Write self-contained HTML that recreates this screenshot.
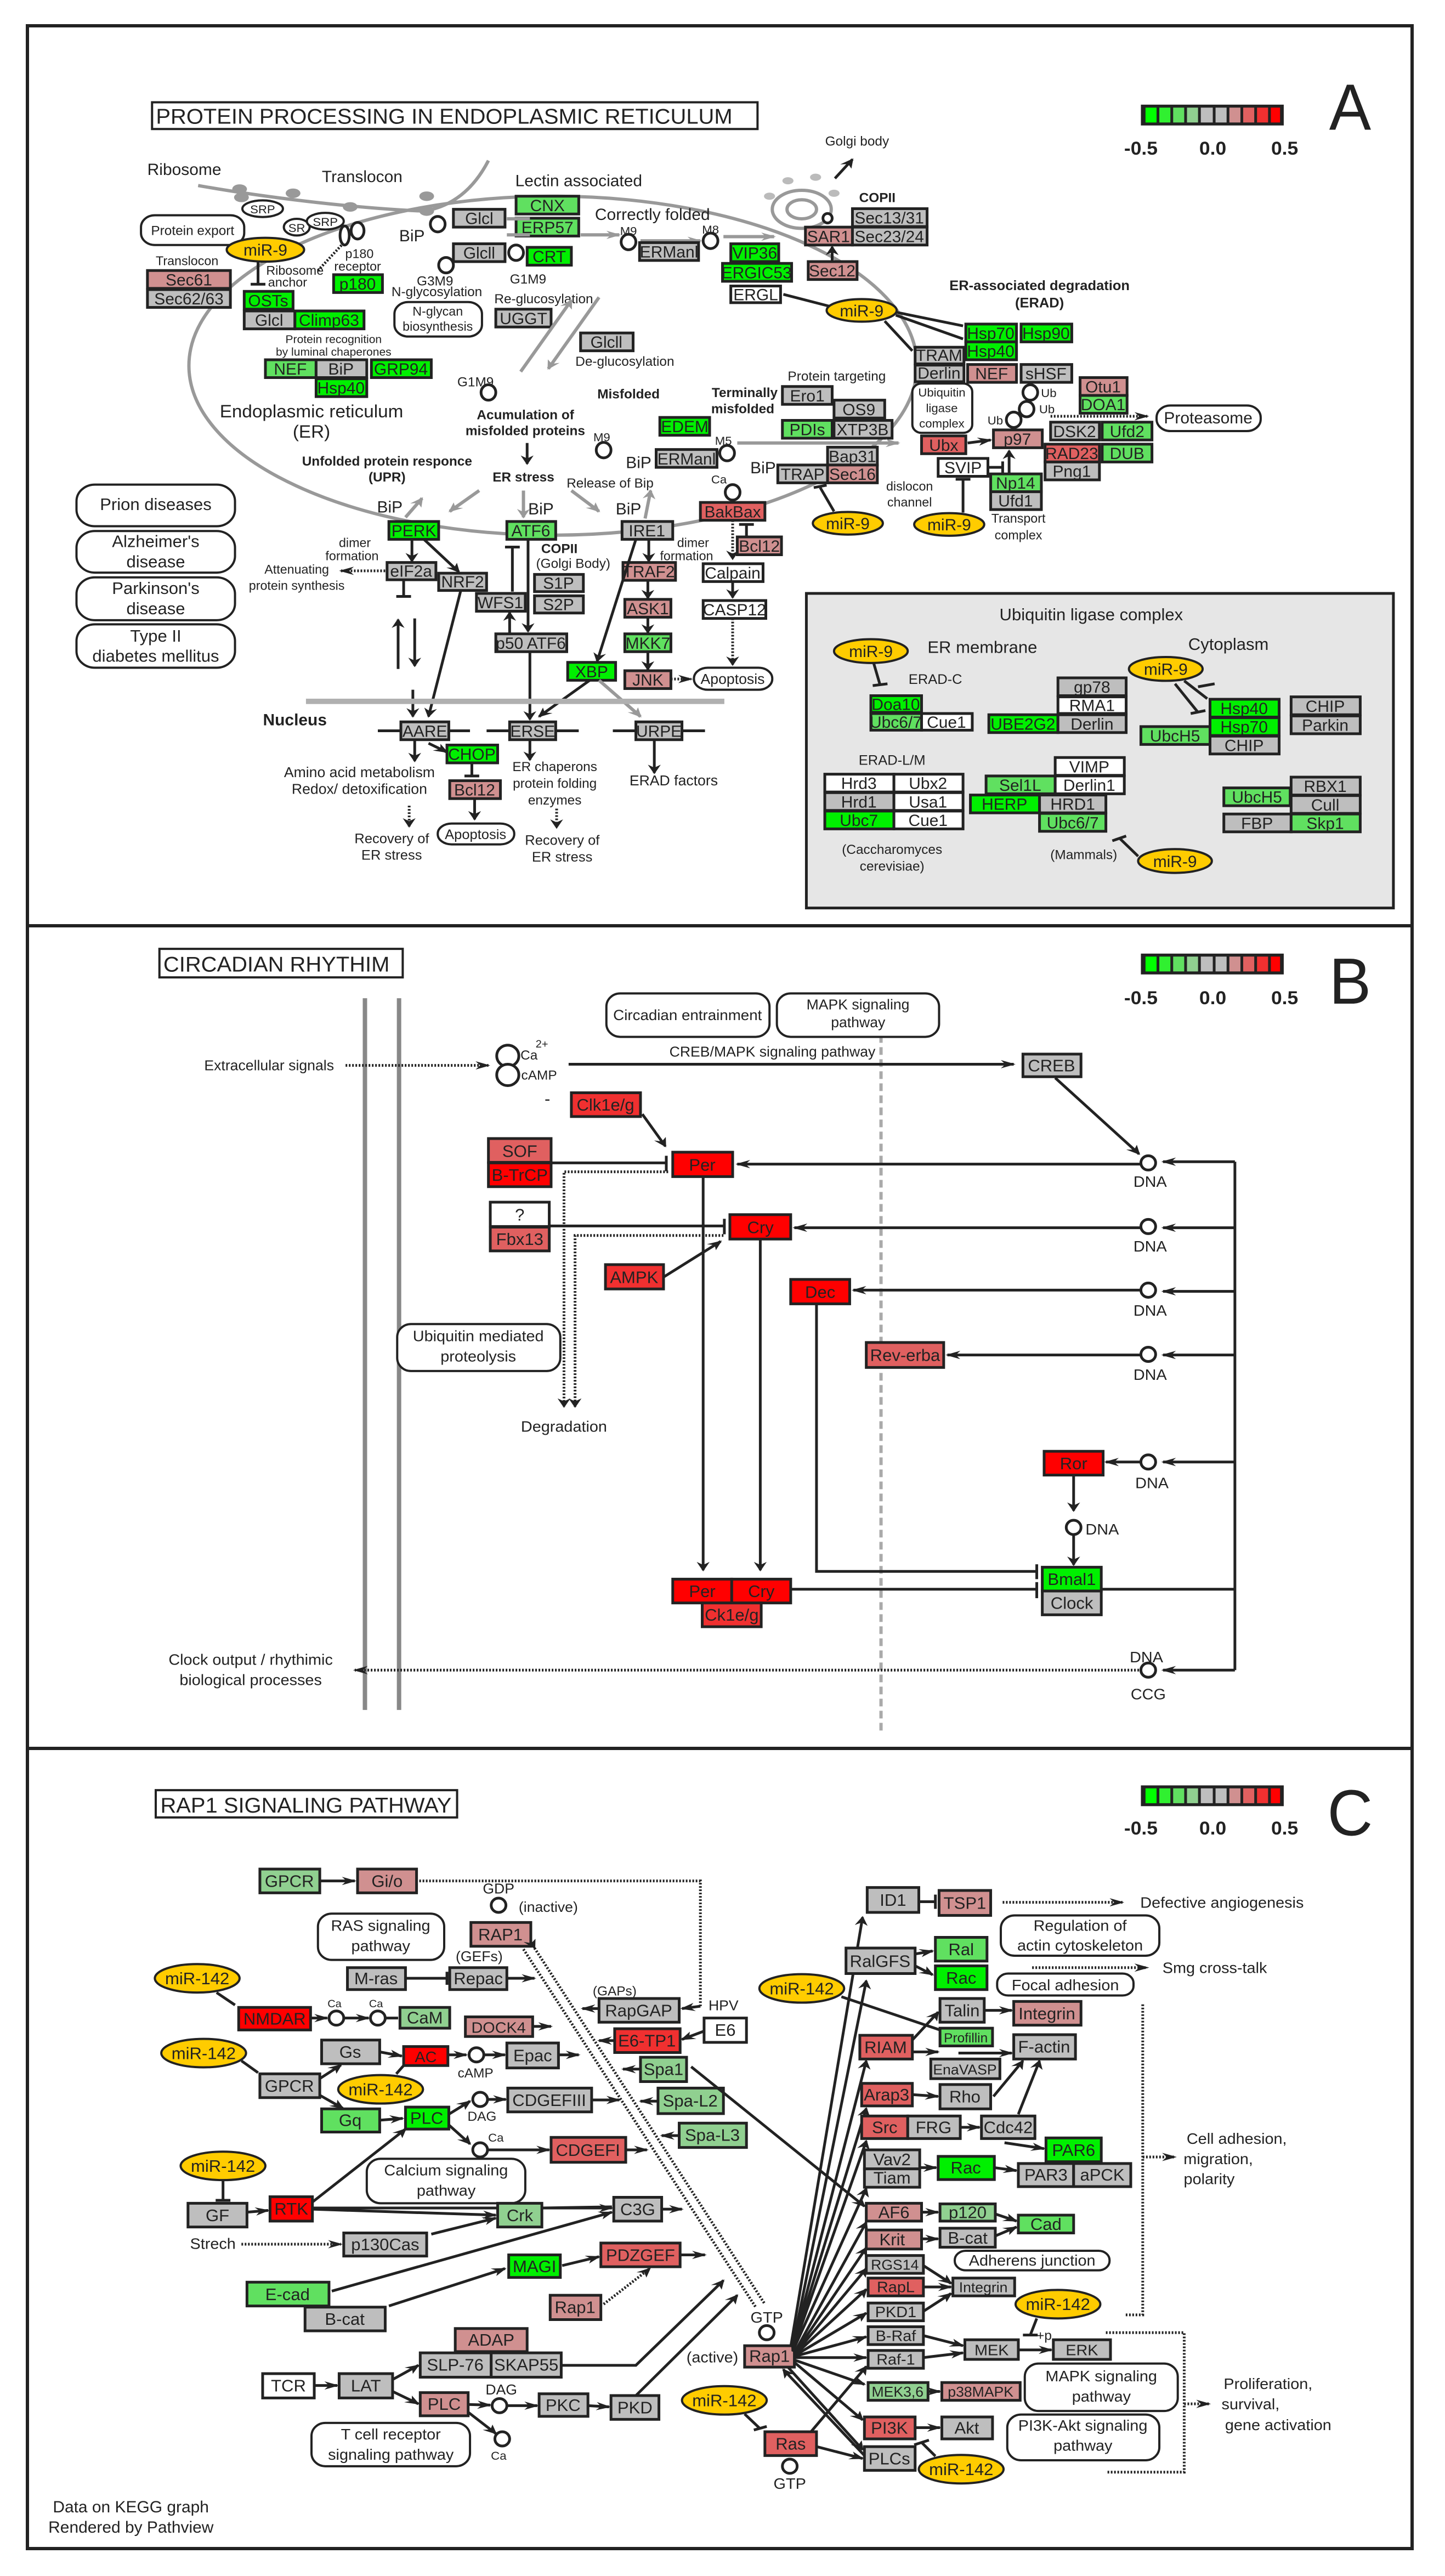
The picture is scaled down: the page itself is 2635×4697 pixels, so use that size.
<!DOCTYPE html>
<html><head><meta charset="utf-8"><style>
html,body{margin:0;padding:0;background:#fff;}
svg{display:block}
svg *{vector-effect:non-scaling-stroke}
text{font-family:"Liberation Sans",sans-serif;font-size:27px;text-anchor:middle;fill:#222;transform-box:fill-box;transform-origin:center;transform:scaleX(.66)}
text.bd{font-weight:bold}
text.big{font-size:110px;transform:scaleX(.62)}
rect.b{stroke:#222;stroke-width:5}
.G1{fill:#00f000}.G2{fill:#30e030}.G3{fill:#60e060}.G4{fill:#90d090}.GR{fill:#bebebe}.P1{fill:#d09090}.P2{fill:#e06060}.P3{fill:#f03030}.R{fill:#ff0000}.W{fill:#fff}
.m{fill:#ffcc00;stroke:#222;stroke-width:4}
.rb{fill:#fff;stroke:#222;stroke-width:4}
.l{stroke:#222;stroke-width:5;fill:none}
.gl{stroke:#999;stroke-width:6;fill:none}
.c{fill:#fff;stroke:#222;stroke-width:5}
.d{stroke-dasharray:3 3}
</style></head><body>
<svg width="2635" height="4697" viewBox="0 0 2635 4697" xmlns="http://www.w3.org/2000/svg">
<defs>
<marker id="a" markerUnits="userSpaceOnUse" markerWidth="16" markerHeight="14" refX="14" refY="7" orient="auto"><path d="M0,0 L16,7 L0,14 L5,7 z" fill="#222"/></marker>
<marker id="ag" markerUnits="userSpaceOnUse" markerWidth="16" markerHeight="14" refX="14" refY="7" orient="auto"><path d="M0,0 L16,7 L0,14 L5,7 z" fill="#999"/></marker>
</defs>
<rect x="0" y="0" width="2635" height="4697" fill="#fff"/>
<rect x="50" y="47" width="2525" height="4600" fill="none" stroke="#222" stroke-width="6"/>
<line x1="50" y1="1688" x2="2575" y2="1688" stroke="#222" stroke-width="6"/>
<line x1="50" y1="3188" x2="2575" y2="3188" stroke="#222" stroke-width="6"/>

<!-- ================= PANEL A ================= -->
<g transform="matrix(1.6805 0 0 1.0842 0 0)">
<rect x="165" y="172" width="657" height="45" fill="#fff" stroke="#222" stroke-width="4"/>
<text x="482" y="208" style="font-size:36px">PROTEIN PROCESSING IN ENDOPLASMIC RETICULUM</text>
<rect x="1238" y="176" width="155" height="35" fill="#222"/>
<rect x="1243" y="181" width="12" height="25" fill="#00ff00"/><rect x="1258" y="181" width="12" height="25" fill="#30f030"/><rect x="1273" y="181" width="12" height="25" fill="#60e060"/><rect x="1288" y="181" width="12" height="25" fill="#90d090"/><rect x="1303" y="181" width="13" height="25" fill="#bebebe"/><rect x="1319" y="181" width="12" height="25" fill="#bebebe"/><rect x="1334" y="181" width="12" height="25" fill="#d09090"/><rect x="1349" y="181" width="12" height="25" fill="#e06060"/><rect x="1364" y="181" width="12" height="25" fill="#f03030"/><rect x="1379" y="181" width="10" height="25" fill="#ff0000"/>
<text class="bd" x="1238" y="260" style="font-size:32px">-0.5</text><text class="bd" x="1316" y="260" style="font-size:32px">0.0</text><text class="bd" x="1394" y="260" style="font-size:32px">0.5</text>
<text class="big" x="1465" y="218">A</text>

<ellipse cx="600" cy="615" rx="395" ry="285" class="gl"/>
<path d="M215,312 C280,330 380,350 460,355 C500,345 520,300 530,270" class="gl"/>
<circle cx="260" cy="318" r="8" fill="#999"/><circle cx="262" cy="332" r="8" fill="#999"/><circle cx="318" cy="325" r="8" fill="#999"/><circle cx="380" cy="348" r="8" fill="#999"/><circle cx="463" cy="330" r="8" fill="#999"/><circle cx="463" cy="355" r="8" fill="#999"/>
<circle cx="870" cy="352" r="32" class="gl"/><circle cx="870" cy="352" r="16" class="gl"/>
<circle cx="855" cy="304" r="6" fill="#bbb"/><circle cx="885" cy="298" r="6" fill="#bbb"/><circle cx="905" cy="325" r="6" fill="#bbb"/><circle cx="835" cy="330" r="6" fill="#bbb"/>
<line x1="906" y1="300" x2="925" y2="268" class="l" marker-end="url(#a)"/>
<text x="200" y="294">Ribosome</text><text x="393" y="306">Translocon</text><text x="628" y="313">Lectin associated</text><text x="708" y="370">Correctly folded</text>
<text x="930" y="245" style="font-size:22px">Golgi body</text><text class="bd" x="952" y="340" style="font-size:22px">COPII</text>
<ellipse cx="285" cy="351" rx="22" ry="14" class="rb"/><text x="285" y="359" style="font-size:20px">SRP</text>
<ellipse cx="322" cy="382" rx="14" ry="14" class="rb"/><text x="322" y="390" style="font-size:20px">SR</text>
<ellipse cx="353" cy="372" rx="20" ry="14" class="rb"/><text x="353" y="380" style="font-size:20px">SRP</text>
<ellipse cx="388" cy="388" rx="7" ry="14" class="c"/><ellipse cx="374" cy="396" rx="5" ry="16" class="c"/>
<rect x="153" y="362" width="112" height="50" rx="15" ry="20" class="rb"/><text x="209" y="395" style="font-size:22px">Protein export</text>
<ellipse cx="288" cy="420" rx="42" ry="20" class="m"/><text x="288" y="430">miR-9</text>
<line x1="280" y1="440" x2="280" y2="478" class="l"/><line x1="272" y1="478" x2="288" y2="478" class="l"/>
<text x="203" y="446" style="font-size:21px">Translocon</text>
<rect class="b P1" x="160" y="455" width="90" height="30"/><text x="205" y="480">Sec61</text>
<rect class="b GR" x="160" y="487" width="90" height="30"/><text x="205" y="512">Sec62/63</text>
<text x="320" y="462" style="font-size:21px">Ribosome</text><text x="312" y="482" style="font-size:21px">anchor</text>
<text x="390" y="434" style="font-size:21px">p180</text><text x="388" y="455" style="font-size:21px">receptor</text>
<path d="M345,455 L372,410" class="l d"/>
<rect class="b G1" x="362" y="462" width="53" height="30"/><text x="388" y="487">p180</text>
<rect class="b G1" x="265" y="490" width="53" height="30"/><text x="291" y="515">OSTs</text>
<rect class="b GR" x="265" y="523" width="55" height="30"/><text x="292" y="548">Glcl</text>
<rect class="b G1" x="320" y="523" width="75" height="30"/><text x="357" y="548">Climp63</text>
<text x="447" y="406">BiP</text><ellipse cx="475" cy="377" rx="8" ry="13" class="c"/>
<rect class="b GR" x="492" y="352" width="56" height="30"/><text x="520" y="377">Glcl</text>
<rect class="b GR" x="492" y="410" width="56" height="30"/><text x="520" y="435">Glcll</text>
<rect class="b G3" x="560" y="330" width="68" height="30"/><text x="594" y="355">CNX</text>
<rect class="b G3" x="560" y="367" width="68" height="30"/><text x="594" y="392">ERP57</text>
<ellipse cx="560" cy="425" rx="8" ry="13" class="c"/>
<rect class="b G1" x="572" y="416" width="48" height="30"/><text x="596" y="441">CRT</text>
<line x1="550" y1="368" x2="575" y2="368" class="gl"/><line x1="550" y1="395" x2="575" y2="395" class="gl"/>
<line x1="630" y1="395" x2="672" y2="395" class="gl" marker-end="url(#ag)"/><line x1="695" y1="405" x2="760" y2="405" class="gl" marker-end="url(#ag)"/><line x1="785" y1="398" x2="840" y2="398" class="gl" marker-end="url(#ag)"/>
<text x="682" y="395" style="font-size:20px">M9</text><ellipse cx="682" cy="407" rx="8" ry="13" class="c"/>
<rect class="b GR" x="694" y="408" width="64" height="30"/><text x="726" y="433">ERManl</text>
<text x="771" y="393" style="font-size:20px">M8</text><ellipse cx="771" cy="405" rx="8" ry="13" class="c"/>
<rect class="b G1" x="793" y="410" width="52" height="30"/><text x="819" y="435">VIP36</text>
<rect class="b G1" x="784" y="443" width="75" height="30"/><text x="821" y="468">ERGIC53</text>
<rect class="b W" x="793" y="481" width="54" height="28"/><text x="820" y="505">ERGL</text>
<ellipse cx="898" cy="367" rx="5" ry="8" class="c"/>
<rect class="b P1" x="874" y="382" width="51" height="30"/><text x="899" y="407">SAR1</text>
<rect class="b GR" x="925" y="351" width="81" height="30"/><text x="965" y="376">Sec13/31</text>
<rect class="b GR" x="925" y="382" width="81" height="30"/><text x="965" y="407">Sec23/24</text>
<rect class="b P1" x="877" y="440" width="53" height="30"/><text x="903" y="465">Sec12</text>
<line x1="903" y1="440" x2="903" y2="415" class="l" marker-end="url(#a)"/>
<text x="472" y="480" style="font-size:22px">G3M9</text><ellipse cx="484" cy="446" rx="8" ry="13" class="c"/>
<text x="474" y="498" style="font-size:22px">N-glycosylation</text>
<rect x="428" y="508" width="95" height="58" rx="15" ry="20" class="rb"/><text x="475" y="531" style="font-size:21px">N-glycan</text><text x="475" y="556" style="font-size:21px">biosynthesis</text>
<text x="573" y="477" style="font-size:22px">G1M9</text><text x="590" y="510" style="font-size:22px">Re-glucosylation</text>
<rect class="b GR" x="538" y="520" width="60" height="30"/><text x="568" y="545">UGGT</text>
<rect class="b GR" x="630" y="560" width="57" height="30"/><text x="658" y="585">Glcll</text>
<text x="678" y="615" style="font-size:22px">De-glucosylation</text>
<line x1="650" y1="500" x2="595" y2="620" class="gl" marker-end="url(#ag)"/><line x1="565" y1="625" x2="620" y2="505" class="gl" marker-end="url(#ag)"/>
<text x="362" y="577" style="font-size:19px">Protein recognition</text><text x="362" y="598" style="font-size:19px">by luminal chaperones</text>
<rect class="b G3" x="288" y="605" width="55" height="30"/><text x="315" y="630">NEF</text>
<rect class="b GR" x="343" y="605" width="55" height="30"/><text x="370" y="630">BiP</text>
<rect class="b G1" x="403" y="605" width="65" height="30"/><text x="435" y="630">GRP94</text>
<rect class="b G1" x="343" y="637" width="55" height="30"/><text x="370" y="662">Hsp40</text>
<text x="338" y="702" style="font-size:30px">Endoplasmic reticulum</text><text x="338" y="736" style="font-size:30px">(ER)</text>
<text x="516" y="650" style="font-size:22px">G1M9</text><ellipse cx="530" cy="660" rx="8" ry="13" class="c"/>
<text class="bd" x="682" y="670" style="font-size:22px">Misfolded</text>
<text class="bd" x="570" y="705" style="font-size:22px">Acumulation of</text><text class="bd" x="570" y="732" style="font-size:22px">misfolded proteins</text>
<line x1="572" y1="745" x2="572" y2="780" class="l" marker-end="url(#a)"/>
<text class="bd" x="420" y="783" style="font-size:22px">Unfolded protein responce</text><text class="bd" x="420" y="810" style="font-size:22px">(UPR)</text>
<text class="bd" x="568" y="810" style="font-size:22px">ER stress</text><text x="662" y="820" style="font-size:22px">Release of Bip</text>
<text class="bd" x="808" y="668" style="font-size:22px">Terminally</text><text class="bd" x="806" y="695" style="font-size:22px">misfolded</text>
<text x="908" y="640" style="font-size:22px">Protein targeting</text>
<rect class="b GR" x="849" y="650" width="54" height="30"/><text x="876" y="675">Ero1</text>
<rect class="b GR" x="905" y="673" width="55" height="30"/><text x="932" y="698">OS9</text>
<rect class="b G3" x="849" y="707" width="54" height="30"/><text x="876" y="732">PDIs</text>
<rect class="b GR" x="905" y="707" width="63" height="30"/><text x="936" y="732">XTP3B</text>
<rect class="b G1" x="716" y="702" width="54" height="30"/><text x="743" y="727">EDEM</text>
<text x="653" y="742" style="font-size:20px">M9</text><ellipse cx="655" cy="757" rx="8" ry="13" class="c"/>
<rect class="b GR" x="712" y="756" width="66" height="30"/><text x="745" y="781">ERManl</text>
<text x="693" y="787">BiP</text>
<text x="785" y="748" style="font-size:20px">M5</text><ellipse cx="789" cy="762" rx="8" ry="13" class="c"/>
<line x1="800" y1="745" x2="975" y2="745" class="gl" marker-end="url(#ag)"/>
<text x="828" y="796">BiP</text>
<rect class="b GR" x="898" y="752" width="54" height="30"/><text x="925" y="777">Bap31</text>
<rect class="b GR" x="844" y="782" width="54" height="30"/><text x="871" y="807">TRAP</text>
<rect class="b P1" x="898" y="782" width="54" height="30"/><text x="925" y="807">Sec16</text>
<text x="780" y="813" style="font-size:20px">Ca</text><ellipse cx="795" cy="828" rx="8" ry="13" class="c"/>
<rect class="b P2" x="760" y="845" width="70" height="30"/><text x="795" y="870">BakBax</text>
<line x1="795" y1="875" x2="795" y2="940" class="l d" marker-end="url(#a)"/>
<rect class="b P1" x="800" y="903" width="48" height="30"/><text x="824" y="928">Bcl12</text>
<line x1="810" y1="903" x2="810" y2="882" class="l"/><line x1="802" y1="882" x2="818" y2="882" class="l"/>
<rect class="b W" x="763" y="948" width="65" height="30"/><text x="795" y="973">Calpain</text>
<line x1="795" y1="978" x2="795" y2="1005" class="l" marker-end="url(#a)"/>
<rect class="b W" x="763" y="1010" width="68" height="30"/><text x="797" y="1035">CASP12</text>
<line x1="795" y1="1040" x2="795" y2="1118" class="l d" marker-end="url(#a)"/>
<rect x="753" y="1123" width="85" height="37" rx="15" ry="18" class="rb"/><text x="795" y="1150" style="font-size:24px">Apoptosis</text>
<text class="bd" x="1128" y="488" style="font-size:23px">ER-associated degradation</text><text class="bd" x="1128" y="517" style="font-size:23px">(ERAD)</text>
<line x1="850" y1="495" x2="900" y2="515" class="l"/>
<ellipse cx="935" cy="522" rx="38" ry="19" class="m"/><text x="935" y="532">miR-9</text>
<line x1="972" y1="525" x2="1045" y2="548" class="l"/><line x1="972" y1="530" x2="1045" y2="570" class="l"/><line x1="960" y1="540" x2="990" y2="590" class="l"/>
<rect class="b G1" x="1048" y="545" width="55" height="30"/><text x="1075" y="570">Hsp70</text>
<rect class="b G1" x="1108" y="545" width="55" height="30"/><text x="1135" y="570">Hsp90</text>
<rect class="b G1" x="1048" y="575" width="55" height="30"/><text x="1075" y="600">Hsp40</text>
<rect class="b GR" x="993" y="584" width="53" height="28"/><text x="1019" y="607">TRAM</text>
<rect class="b GR" x="993" y="614" width="53" height="28"/><text x="1019" y="637">Derlin</text>
<rect class="b P1" x="1050" y="613" width="53" height="30"/><text x="1076" y="638">NEF</text>
<rect class="b GR" x="1108" y="613" width="55" height="30"/><text x="1135" y="638">sHSF</text>
<rect x="990" y="645" width="65" height="83" rx="10" ry="14" class="rb"/><text x="1022" y="667" style="font-size:20px">Ubiquitin</text><text x="1022" y="693" style="font-size:20px">ligase</text><text x="1022" y="719" style="font-size:20px">complex</text>
<rect class="b P1" x="1172" y="635" width="51" height="30"/><text x="1197" y="660">Otu1</text>
<rect class="b G3" x="1172" y="665" width="51" height="30"/><text x="1197" y="690">DOA1</text>
<text x="1138" y="668" style="font-size:20px">Ub</text><ellipse cx="1118" cy="660" rx="8" ry="13" class="c"/>
<text x="1136" y="695" style="font-size:20px">Ub</text><ellipse cx="1114" cy="688" rx="8" ry="13" class="c"/>
<text x="1080" y="714" style="font-size:20px">Ub</text><ellipse cx="1100" cy="706" rx="8" ry="13" class="c"/>
<line x1="1140" y1="700" x2="1245" y2="700" class="l d" marker-end="url(#a)"/>
<rect x="1255" y="682" width="113" height="43" rx="15" ry="20" class="rb"/><text x="1311" y="712" style="font-size:27px">Proteasome</text>
<rect class="b GR" x="1140" y="710" width="53" height="30"/><text x="1166" y="735">DSK2</text>
<rect class="b G3" x="1196" y="710" width="54" height="30"/><text x="1223" y="735">Ufd2</text>
<rect class="b P2" x="1000" y="733" width="48" height="30"/><text x="1024" y="758">Ubx</text>
<rect class="b P1" x="1078" y="723" width="53" height="30"/><text x="1104" y="748">p97</text>
<line x1="1050" y1="745" x2="1075" y2="740" class="l" marker-end="url(#a)"/>
<rect class="b P2" x="1134" y="747" width="59" height="30"/><text x="1163" y="772">RAD23</text>
<rect class="b G3" x="1196" y="747" width="54" height="30"/><text x="1223" y="772">DUB</text>
<rect class="b GR" x="1134" y="777" width="59" height="30"/><text x="1163" y="802">Png1</text>
<rect class="b W" x="1018" y="771" width="54" height="30"/><text x="1045" y="796">SVIP</text>
<line x1="1072" y1="786" x2="1088" y2="786" class="l"/><line x1="1088" y1="776" x2="1088" y2="796" class="l"/>
<line x1="1095" y1="797" x2="1095" y2="758" class="l" marker-end="url(#a)"/>
<rect class="b G3" x="1075" y="797" width="55" height="30"/><text x="1102" y="822">Np14</text>
<rect class="b GR" x="1075" y="827" width="55" height="30"/><text x="1102" y="852">Ufd1</text>
<text x="987" y="825" style="font-size:21px">dislocon</text><text x="987" y="852" style="font-size:21px">channel</text>
<text x="1105" y="879" style="font-size:21px">Transport</text><text x="1105" y="907" style="font-size:21px">complex</text>
<ellipse cx="920" cy="880" rx="38" ry="19" class="m"/><text x="920" y="890">miR-9</text>
<line x1="905" y1="860" x2="890" y2="820" class="l"/><line x1="883" y1="820" x2="897" y2="816" class="l"/>
<ellipse cx="1030" cy="882" rx="38" ry="19" class="m"/><text x="1030" y="892">miR-9</text>
<line x1="1045" y1="862" x2="1045" y2="806" class="l"/><line x1="1037" y1="806" x2="1053" y2="806" class="l"/>
<text x="423" y="862">BiP</text><text x="587" y="865">BiP</text><text x="682" y="865">BiP</text>
<line x1="440" y1="870" x2="458" y2="838" class="gl" marker-end="url(#ag)"/><line x1="520" y1="825" x2="488" y2="860" class="gl" marker-end="url(#ag)"/>
<line x1="568" y1="825" x2="568" y2="870" class="gl" marker-end="url(#ag)"/><line x1="620" y1="825" x2="650" y2="860" class="gl" marker-end="url(#ag)"/><line x1="700" y1="872" x2="706" y2="825" class="gl" marker-end="url(#ag)"/>
<rect class="b G1" x="422" y="877" width="54" height="30"/><text x="449" y="902">PERK</text>
<rect class="b G3" x="550" y="877" width="53" height="30"/><text x="576" y="902">ATF6</text>
<rect class="b GR" x="675" y="877" width="55" height="30"/><text x="702" y="902">IRE1</text>
<text x="385" y="920" style="font-size:21px">dimer</text><text x="382" y="942" style="font-size:21px">formation</text>
<text x="322" y="965" style="font-size:21px">Attenuating</text><text x="322" y="992" style="font-size:21px">protein synthesis</text>
<line x1="418" y1="960" x2="370" y2="960" class="l d" marker-end="url(#a)"/>
<rect class="b GR" x="420" y="946" width="53" height="29"/><text x="446" y="970">eIF2a</text>
<rect class="b GR" x="476" y="964" width="52" height="29"/><text x="502" y="988">NRF2</text>
<line x1="447" y1="907" x2="447" y2="944" class="l" marker-end="url(#a)"/><line x1="460" y1="907" x2="498" y2="962" class="l" marker-end="url(#a)"/>
<line x1="438" y1="975" x2="438" y2="1003" class="l"/><line x1="430" y1="1003" x2="446" y2="1003" class="l"/>
<line x1="450" y1="1040" x2="450" y2="1120" class="l" marker-end="url(#a)"/><line x1="432" y1="1125" x2="432" y2="1042" class="l" marker-end="url(#a)"/>
<line x1="500" y1="993" x2="465" y2="1205" class="l" marker-end="url(#a)"/>
<line x1="448" y1="1160" x2="448" y2="1205" class="l" marker-end="url(#a)"/>
<text class="bd" x="607" y="930" style="font-size:22px">COPII</text><text x="622" y="955" style="font-size:22px">(Golgi Body)</text>
<rect class="b GR" x="580" y="966" width="53" height="29"/><text x="606" y="990">S1P</text>
<rect class="b GR" x="580" y="1002" width="53" height="29"/><text x="606" y="1026">S2P</text>
<rect class="b GR" x="517" y="998" width="53" height="30"/><text x="543" y="1023">WFS1</text>
<line x1="556" y1="920" x2="556" y2="995" class="l"/><line x1="548" y1="920" x2="564" y2="920" class="l"/>
<line x1="573" y1="907" x2="573" y2="1062" class="l" marker-end="url(#a)"/><line x1="553" y1="1066" x2="553" y2="1030" class="l" marker-end="url(#a)"/>
<rect class="b GR" x="538" y="1066" width="77" height="30"/><text x="576" y="1091">p50 ATF6</text>
<line x1="575" y1="1096" x2="575" y2="1210" class="l" marker-end="url(#a)"/>
<text x="752" y="920" style="font-size:21px">dimer</text><text x="745" y="942" style="font-size:21px">formation</text>
<rect class="b P1" x="676" y="946" width="57" height="30"/><text x="704" y="971">TRAF2</text>
<line x1="704" y1="907" x2="704" y2="944" class="l" marker-end="url(#a)"/>
<rect class="b P1" x="678" y="1008" width="50" height="30"/><text x="703" y="1033">ASK1</text>
<rect class="b G3" x="678" y="1066" width="50" height="30"/><text x="703" y="1091">MKK7</text>
<rect class="b P1" x="678" y="1128" width="50" height="30"/><text x="703" y="1153">JNK</text>
<line x1="703" y1="976" x2="703" y2="1006" class="l" marker-end="url(#a)"/><line x1="703" y1="1038" x2="703" y2="1064" class="l" marker-end="url(#a)"/><line x1="703" y1="1096" x2="703" y2="1126" class="l" marker-end="url(#a)"/>
<line x1="728" y1="1142" x2="750" y2="1142" class="l d" marker-end="url(#a)"/>
<rect class="b G1" x="616" y="1114" width="52" height="30"/><text x="642" y="1139">XBP</text>
<line x1="690" y1="907" x2="648" y2="1112" class="l" marker-end="url(#a)"/>
<line x1="640" y1="1144" x2="585" y2="1205" class="l" marker-end="url(#a)"/><line x1="650" y1="1144" x2="695" y2="1205" class="gl" marker-end="url(#ag)"/>
<rect x="332" y="1175" width="454" height="9" fill="#b0b0b0"/>
<text class="bd" x="320" y="1220">Nucleus</text>
<line x1="410" y1="1229" x2="510" y2="1229" class="l"/><line x1="528" y1="1229" x2="628" y2="1229" class="l"/><line x1="665" y1="1229" x2="765" y2="1229" class="l"/>
<rect class="b GR" x="435" y="1214" width="52" height="30"/><text x="461" y="1239">AARE</text>
<rect class="b GR" x="553" y="1214" width="50" height="30"/><text x="578" y="1239">ERSE</text>
<rect class="b GR" x="690" y="1214" width="50" height="30"/><text x="715" y="1239">URPE</text>
<line x1="450" y1="1246" x2="450" y2="1280" class="l" marker-end="url(#a)"/><line x1="465" y1="1250" x2="485" y2="1265" class="l" marker-end="url(#a)"/>
<line x1="575" y1="1246" x2="575" y2="1278" class="l" marker-end="url(#a)"/><line x1="710" y1="1246" x2="710" y2="1300" class="l" marker-end="url(#a)"/>
<rect class="b G1" x="485" y="1253" width="55" height="30"/><text x="512" y="1278">CHOP</text>
<line x1="512" y1="1283" x2="512" y2="1305" class="l"/><line x1="504" y1="1305" x2="520" y2="1305" class="l"/>
<rect class="b P1" x="488" y="1313" width="55" height="30"/><text x="515" y="1338">Bcl12</text>
<line x1="515" y1="1343" x2="515" y2="1378" class="l" marker-end="url(#a)"/>
<text x="390" y="1307" style="font-size:24px">Amino acid metabolism</text><text x="390" y="1335" style="font-size:24px">Redox/ detoxification</text>
<text x="602" y="1297" style="font-size:22px">ER chaperons</text><text x="602" y="1325" style="font-size:22px">protein folding</text><text x="602" y="1353" style="font-size:22px">enzymes</text>
<text x="731" y="1321" style="font-size:24px">ERAD factors</text>
<rect x="475" y="1385" width="83" height="35" rx="15" ry="17" class="rb"/><text x="516" y="1411" style="font-size:23px">Apoptosis</text>
<line x1="444" y1="1355" x2="444" y2="1390" class="l d" marker-end="url(#a)"/><line x1="604" y1="1360" x2="604" y2="1392" class="l d" marker-end="url(#a)"/>
<text x="425" y="1418" style="font-size:23px">Recovery of</text><text x="425" y="1446" style="font-size:23px">ER stress</text>
<text x="610" y="1421" style="font-size:23px">Recovery of</text><text x="610" y="1449" style="font-size:23px">ER stress</text>
<rect x="83" y="815" width="172" height="70" rx="20" ry="28" class="rb"/><text x="169" y="858" style="font-size:28px">Prion diseases</text>
<rect x="83" y="893" width="172" height="70" rx="20" ry="28" class="rb"/><text x="169" y="920" style="font-size:28px">Alzheimer's</text><text x="169" y="954" style="font-size:28px">disease</text>
<rect x="83" y="971" width="172" height="72" rx="20" ry="28" class="rb"/><text x="169" y="999" style="font-size:28px">Parkinson's</text><text x="169" y="1033" style="font-size:28px">disease</text>
<rect x="83" y="1050" width="172" height="73" rx="20" ry="28" class="rb"/><text x="169" y="1079" style="font-size:28px">Type II</text><text x="169" y="1113" style="font-size:28px">diabetes mellitus</text>
<rect x="875" y="998" width="637" height="529" fill="#e6e6e6" stroke="#222" stroke-width="5"/>
<text x="1184" y="1043" style="font-size:28px">Ubiquitin ligase complex</text>
<ellipse cx="945" cy="1095" rx="40" ry="20" class="m"/><text x="945" y="1105">miR-9</text>
<line x1="948" y1="1115" x2="955" y2="1152" class="l"/><line x1="947" y1="1153" x2="963" y2="1150" class="l"/>
<text x="1066" y="1098" style="font-size:28px">ER membrane</text><text x="1333" y="1093" style="font-size:28px">Cytoplasm</text>
<text x="1015" y="1150" style="font-size:23px">ERAD-C</text>
<rect class="b G1" x="945" y="1170" width="55" height="28"/><text x="972" y="1194">Doa10</text>
<rect class="b G3" x="945" y="1200" width="55" height="28"/><text x="972" y="1224">Ubc6/7</text>
<rect class="b W" x="1000" y="1200" width="55" height="28"/><text x="1027" y="1224">Cue1</text>
<rect class="b GR" x="1148" y="1140" width="74" height="30"/><text x="1185" y="1165">gp78</text>
<rect class="b W" x="1148" y="1172" width="74" height="28"/><text x="1185" y="1196">RMA1</text>
<rect class="b G1" x="1073" y="1202" width="75" height="30"/><text x="1110" y="1227">UBE2G2</text>
<rect class="b GR" x="1148" y="1202" width="74" height="30"/><text x="1185" y="1227">Derlin</text>
<ellipse cx="1265" cy="1125" rx="40" ry="20" class="m"/><text x="1265" y="1135">miR-9</text>
<line x1="1285" y1="1145" x2="1310" y2="1175" class="l"/><line x1="1300" y1="1155" x2="1318" y2="1150" class="l"/>
<line x1="1275" y1="1150" x2="1300" y2="1198" class="l"/><line x1="1292" y1="1200" x2="1308" y2="1195" class="l"/>
<rect class="b G1" x="1313" y="1176" width="75" height="30"/><text x="1350" y="1201">Hsp40</text>
<rect class="b G1" x="1313" y="1207" width="75" height="30"/><text x="1350" y="1232">Hsp70</text>
<rect class="b GR" x="1313" y="1238" width="75" height="30"/><text x="1350" y="1263">CHIP</text>
<rect class="b G3" x="1238" y="1222" width="75" height="30"/><text x="1275" y="1247">UbcH5</text>
<rect class="b GR" x="1401" y="1172" width="75" height="30"/><text x="1438" y="1197">CHIP</text>
<rect class="b GR" x="1401" y="1204" width="75" height="30"/><text x="1438" y="1229">Parkin</text>
<text x="968" y="1286" style="font-size:23px">ERAD-L/M</text>
<rect class="b W" x="895" y="1302" width="75" height="30"/><text x="932" y="1327">Hrd3</text>
<rect class="b W" x="970" y="1302" width="75" height="30"/><text x="1007" y="1327">Ubx2</text>
<rect class="b GR" x="895" y="1333" width="75" height="30"/><text x="932" y="1358">Hrd1</text>
<rect class="b W" x="970" y="1333" width="75" height="30"/><text x="1007" y="1358">Usa1</text>
<rect class="b G1" x="895" y="1364" width="75" height="30"/><text x="932" y="1389">Ubc7</text>
<rect class="b W" x="970" y="1364" width="75" height="30"/><text x="1007" y="1389">Cue1</text>
<rect class="b W" x="1145" y="1274" width="75" height="30"/><text x="1182" y="1299">VIMP</text>
<rect class="b G3" x="1070" y="1305" width="75" height="30"/><text x="1107" y="1330">Sel1L</text>
<rect class="b W" x="1145" y="1305" width="75" height="30"/><text x="1182" y="1330">Derlin1</text>
<rect class="b G1" x="1053" y="1337" width="75" height="30"/><text x="1090" y="1362">HERP</text>
<rect class="b GR" x="1128" y="1337" width="72" height="30"/><text x="1164" y="1362">HRD1</text>
<rect class="b G3" x="1128" y="1368" width="72" height="30"/><text x="1164" y="1393">Ubc6/7</text>
<text x="968" y="1436" style="font-size:22px">(Caccharomyces</text><text x="968" y="1464" style="font-size:22px">cerevisiae)</text>
<text x="1176" y="1445" style="font-size:22px">(Mammals)</text>
<ellipse cx="1275" cy="1448" rx="40" ry="20" class="m"/><text x="1275" y="1458">miR-9</text>
<line x1="1235" y1="1440" x2="1215" y2="1410" class="l"/><line x1="1207" y1="1414" x2="1222" y2="1406" class="l"/>
<rect class="b G3" x="1328" y="1325" width="72" height="30"/><text x="1364" y="1350">UbcH5</text>
<rect class="b GR" x="1401" y="1307" width="75" height="30"/><text x="1438" y="1332">RBX1</text>
<rect class="b GR" x="1401" y="1338" width="75" height="30"/><text x="1438" y="1363">Cull</text>
<rect class="b GR" x="1328" y="1369" width="73" height="30"/><text x="1364" y="1394">FBP</text>
<rect class="b G3" x="1401" y="1369" width="75" height="30"/><text x="1438" y="1394">Skp1</text>
</g>

<!-- ================= PANEL B ================= -->
<g transform="matrix(1.6805 0 0 1.0842 0 1600)">
<rect x="173" y="120" width="264" height="48" fill="#fff" stroke="#222" stroke-width="4"/>
<text x="300" y="158" style="font-size:36px">CIRCADIAN RHYTHIM</text>
<rect x="1238" y="128" width="155" height="35" fill="#222"/>
<rect x="1243" y="133" width="12" height="25" fill="#00ff00"/><rect x="1258" y="133" width="12" height="25" fill="#30f030"/><rect x="1273" y="133" width="12" height="25" fill="#60e060"/><rect x="1288" y="133" width="12" height="25" fill="#90d090"/><rect x="1303" y="133" width="13" height="25" fill="#bebebe"/><rect x="1319" y="133" width="12" height="25" fill="#bebebe"/><rect x="1334" y="133" width="12" height="25" fill="#d09090"/><rect x="1349" y="133" width="12" height="25" fill="#e06060"/><rect x="1364" y="133" width="12" height="25" fill="#f03030"/><rect x="1379" y="133" width="10" height="25" fill="#ff0000"/>
<text class="bd" x="1238" y="213" style="font-size:32px">-0.5</text><text class="bd" x="1316" y="213" style="font-size:32px">0.0</text><text class="bd" x="1394" y="213" style="font-size:32px">0.5</text>
<text class="big" x="1465" y="212">B</text>
<line x1="396" y1="203" x2="396" y2="1400" stroke="#888" stroke-width="8"/>
<line x1="433" y1="203" x2="433" y2="1400" stroke="#888" stroke-width="8"/>
<line x1="956" y1="265" x2="956" y2="1435" stroke="#aaa" stroke-width="6" stroke-dasharray="14 8"/>
<rect x="658" y="195" width="177" height="73" rx="15" ry="22" class="rb"/><text x="746" y="240" style="font-size:25px">Circadian entrainment</text>
<rect x="843" y="195" width="176" height="73" rx="15" ry="22" class="rb"/><text x="931" y="222" style="font-size:24px">MAPK signaling</text><text x="931" y="252" style="font-size:24px">pathway</text>
<text x="292" y="324" style="font-size:24px">Extracellular signals</text>
<line x1="375" y1="316" x2="530" y2="316" class="l d" marker-end="url(#a)"/>
<ellipse cx="551" cy="300" rx="12" ry="18" class="c"/><ellipse cx="551" cy="332" rx="12" ry="18" class="c"/>
<text x="574" y="306" style="font-size:22px">Ca</text><text x="588" y="286" style="font-size:18px">2+</text><text x="585" y="340" style="font-size:22px">cAMP</text>
<line x1="617" y1="314" x2="1100" y2="314" class="l" marker-end="url(#a)"/>
<text x="838" y="301" style="font-size:24px">CREB/MAPK signaling pathway</text>
<rect class="b GR" x="1110" y="297" width="63" height="38"/><text x="1141" y="326" style="font-size:28px">CREB</text>
<line x1="1145" y1="337" x2="1236" y2="465" class="l" marker-end="url(#a)"/>
<text x="594" y="382" style="font-size:28px">-</text>
<rect class="b P3" x="620" y="362" width="75" height="40"/><text x="657" y="392" style="font-size:28px">Clk1e/g</text>
<line x1="697" y1="398" x2="722" y2="452" class="l" marker-end="url(#a)"/>
<rect class="b P2" x="530" y="439" width="68" height="40"/><text x="564" y="470" style="font-size:28px">SOF</text>
<rect class="b R" x="530" y="480" width="68" height="40"/><text x="564" y="510" style="font-size:28px">B-TrCP</text>
<rect class="b R" x="730" y="462" width="65" height="41"/><text x="762" y="493" style="font-size:28px">Per</text>
<line x1="598" y1="480" x2="723" y2="480" class="l"/><line x1="723" y1="468" x2="723" y2="494" class="l"/>
<rect class="b W" x="532" y="546" width="64" height="41"/><text x="564" y="577" style="font-size:28px">?</text>
<rect class="b P2" x="532" y="588" width="64" height="40"/><text x="564" y="618" style="font-size:28px">Fbx13</text>
<rect class="b R" x="792" y="567" width="66" height="41"/><text x="825" y="598" style="font-size:28px">Cry</text>
<line x1="596" y1="586" x2="786" y2="586" class="l"/><line x1="786" y1="574" x2="786" y2="600" class="l"/>
<rect class="b P3" x="657" y="651" width="63" height="41"/><text x="688" y="682" style="font-size:28px">AMPK</text>
<line x1="720" y1="672" x2="782" y2="612" class="l" marker-end="url(#a)"/>
<rect class="b R" x="858" y="676" width="64" height="41"/><text x="890" y="707" style="font-size:28px">Dec</text>
<rect class="b P2" x="940" y="782" width="84" height="42"/><text x="982" y="813" style="font-size:28px">Rev-erba</text>
<rect class="b R" x="1133" y="965" width="64" height="40"/><text x="1165" y="995" style="font-size:28px">Ror</text>
<line x1="1340" y1="478" x2="1340" y2="1333" class="l"/>
<line x1="1340" y1="478" x2="1262" y2="478" class="l" marker-end="url(#a)"/><ellipse cx="1246" cy="480" rx="8" ry="12" class="c"/><text x="1248" y="520" style="font-size:26px">DNA</text>
<line x1="1238" y1="482" x2="800" y2="482" class="l" marker-end="url(#a)"/>
<line x1="1340" y1="589" x2="1262" y2="589" class="l" marker-end="url(#a)"/><ellipse cx="1246" cy="587" rx="8" ry="12" class="c"/><text x="1248" y="629" style="font-size:26px">DNA</text>
<line x1="1238" y1="589" x2="862" y2="589" class="l" marker-end="url(#a)"/>
<line x1="1340" y1="696" x2="1262" y2="696" class="l" marker-end="url(#a)"/><ellipse cx="1246" cy="694" rx="8" ry="12" class="c"/><text x="1248" y="737" style="font-size:26px">DNA</text>
<line x1="1238" y1="694" x2="926" y2="694" class="l" marker-end="url(#a)"/>
<line x1="1340" y1="803" x2="1262" y2="803" class="l" marker-end="url(#a)"/><ellipse cx="1246" cy="802" rx="8" ry="12" class="c"/><text x="1248" y="845" style="font-size:26px">DNA</text>
<line x1="1238" y1="803" x2="1028" y2="803" class="l" marker-end="url(#a)"/>
<line x1="1340" y1="983" x2="1262" y2="983" class="l" marker-end="url(#a)"/><ellipse cx="1246" cy="983" rx="8" ry="12" class="c"/><text x="1250" y="1027" style="font-size:26px">DNA</text>
<line x1="1238" y1="983" x2="1200" y2="983" class="l" marker-end="url(#a)"/>
<line x1="1165" y1="1005" x2="1165" y2="1065" class="l" marker-end="url(#a)"/>
<ellipse cx="1165" cy="1093" rx="8" ry="12" class="c"/><text x="1196" y="1105" style="font-size:26px">DNA</text>
<line x1="1165" y1="1105" x2="1165" y2="1156" class="l" marker-end="url(#a)"/>
<rect class="b G1" x="1131" y="1160" width="64" height="40"/><text x="1163" y="1190" style="font-size:28px">Bmal1</text>
<rect class="b GR" x="1131" y="1200" width="64" height="40"/><text x="1163" y="1230" style="font-size:28px">Clock</text>
<polyline points="886,717 886,1167 1125,1167" class="l"/><line x1="1125" y1="1155" x2="1125" y2="1180" class="l"/>
<line x1="858" y1="1197" x2="1125" y2="1197" class="l"/><line x1="1125" y1="1185" x2="1125" y2="1212" class="l"/>
<line x1="1195" y1="1197" x2="1340" y2="1197" class="l"/>
<line x1="763" y1="503" x2="763" y2="1165" class="l" marker-end="url(#a)"/>
<line x1="825" y1="608" x2="825" y2="1165" class="l" marker-end="url(#a)"/>
<rect class="b R" x="730" y="1180" width="64" height="40"/><text x="762" y="1210" style="font-size:28px">Per</text>
<rect class="b R" x="794" y="1180" width="64" height="40"/><text x="826" y="1210" style="font-size:28px">Cry</text>
<rect class="b P3" x="762" y="1220" width="64" height="40"/><text x="794" y="1250" style="font-size:28px">Ck1e/g</text>
<rect x="431" y="751" width="177" height="79" rx="15" ry="22" class="rb"/><text x="519" y="780" style="font-size:26px">Ubiquitin mediated</text><text x="519" y="814" style="font-size:26px">proteolysis</text>
<polyline points="725,495 612,495 612,890" class="l d" marker-end="url(#a)"/>
<polyline points="785,602 624,602 624,890" class="l d" marker-end="url(#a)"/>
<text x="612" y="932" style="font-size:26px">Degradation</text>
<text x="272" y="1324" style="font-size:26px">Clock output / rhythimic</text><text x="272" y="1358" style="font-size:26px">biological processes</text>
<line x1="1236" y1="1333" x2="385" y2="1333" class="l d" marker-end="url(#a)"/>
<ellipse cx="1246" cy="1333" rx="8" ry="12" class="c"/><text x="1244" y="1320" style="font-size:26px">DNA</text><text x="1246" y="1382" style="font-size:26px">CCG</text>
<line x1="1340" y1="1333" x2="1262" y2="1333" class="l" marker-end="url(#a)"/>
</g>

<!-- ================= PANEL C ================= -->
<g transform="matrix(1.6805 0 0 1.0823 0 3000)">
<rect x="169" y="244" width="327" height="46" fill="#fff" stroke="#222" stroke-width="4"/>
<text x="332" y="282" style="font-size:36px">RAP1 SIGNALING PATHWAY</text>
<rect x="1238" y="236" width="155" height="35" fill="#222"/>
<rect x="1243" y="241" width="12" height="25" fill="#00ff00"/><rect x="1258" y="241" width="12" height="25" fill="#30f030"/><rect x="1273" y="241" width="12" height="25" fill="#60e060"/><rect x="1288" y="241" width="12" height="25" fill="#90d090"/><rect x="1303" y="241" width="13" height="25" fill="#bebebe"/><rect x="1319" y="241" width="12" height="25" fill="#bebebe"/><rect x="1334" y="241" width="12" height="25" fill="#d09090"/><rect x="1349" y="241" width="12" height="25" fill="#e06060"/><rect x="1364" y="241" width="12" height="25" fill="#f03030"/><rect x="1379" y="241" width="10" height="25" fill="#ff0000"/>
<text class="bd" x="1238" y="319" style="font-size:32px">-0.5</text><text class="bd" x="1316" y="319" style="font-size:32px">0.0</text><text class="bd" x="1394" y="319" style="font-size:32px">0.5</text>
<text class="big" x="1465" y="320">C</text>
<rect class="b G4" x="282" y="377" width="65" height="40"/><text x="314" y="407" style="font-size:28px">GPCR</text>
<line x1="347" y1="397" x2="385" y2="397" class="l" marker-end="url(#a)"/>
<rect class="b P1" x="388" y="377" width="64" height="40"/><text x="420" y="407" style="font-size:28px">Gi/o</text>
<polyline points="455,397 760,397 760,608" class="l d"/>
<line x1="760" y1="608" x2="740" y2="612" class="l" marker-end="url(#a)"/>
<text x="541" y="418" style="font-size:24px">GDP</text><ellipse cx="541" cy="438" rx="8" ry="12" class="c"/><text x="595" y="449" style="font-size:24px">(inactive)</text>
<rect class="b P1" x="511" y="467" width="65" height="40"/><text x="543" y="497" style="font-size:28px">RAP1</text>
<rect x="345" y="452" width="137" height="78" rx="15" ry="22" class="rb"/><text x="413" y="481" style="font-size:26px">RAS signaling</text><text x="413" y="515" style="font-size:26px">pathway</text>
<text x="520" y="532" style="font-size:24px">(GEFs)</text>
<rect class="b GR" x="377" y="543" width="63" height="37"/><text x="408" y="571" style="font-size:28px">M-ras</text>
<line x1="440" y1="561" x2="485" y2="561" class="l"/><line x1="485" y1="550" x2="485" y2="572" class="l"/>
<rect class="b GR" x="488" y="543" width="62" height="37"/><text x="519" y="571" style="font-size:28px">Repac</text>
<line x1="550" y1="561" x2="580" y2="561" class="l" marker-end="url(#a)"/>
<line x1="568" y1="512" x2="820" y2="1115" class="l d"/><line x1="580" y1="510" x2="830" y2="1110" class="l d" marker-start="url(#a)"/>
<ellipse cx="214" cy="561" rx="46" ry="24" class="m"/><text x="214" y="571" style="font-size:28px">miR-142</text>
<line x1="235" y1="585" x2="255" y2="606" class="l"/>
<rect class="b R" x="259" y="610" width="78" height="38"/><text x="298" y="639" style="font-size:28px">NMDAR</text>
<line x1="337" y1="628" x2="355" y2="628" class="l" marker-end="url(#a)"/>
<ellipse cx="365" cy="628" rx="8" ry="12" class="c"/><text x="363" y="610" style="font-size:18px">Ca</text>
<line x1="374" y1="628" x2="400" y2="628" class="l" marker-end="url(#a)"/>
<ellipse cx="410" cy="628" rx="8" ry="12" class="c"/><text x="408" y="610" style="font-size:18px">Ca</text>
<line x1="419" y1="628" x2="432" y2="628" class="l"/>
<rect class="b G4" x="434" y="610" width="54" height="35"/><text x="461" y="637" style="font-size:28px">CaM</text>
<rect class="b P1" x="505" y="626" width="73" height="33"/><text x="541" y="653" style="font-size:26px">DOCK4</text>
<line x1="578" y1="642" x2="598" y2="642" class="l" marker-end="url(#a)"/>
<text x="667" y="590" style="font-size:22px">(GAPs)</text>
<rect class="b GR" x="650" y="595" width="87" height="40"/><text x="693" y="625" style="font-size:28px">RapGAP</text>
<line x1="650" y1="612" x2="632" y2="612" class="l" marker-end="url(#a)"/>
<text x="785" y="615" style="font-size:24px">HPV</text>
<rect class="b W" x="764" y="628" width="46" height="41"/><text x="787" y="658" style="font-size:28px">E6</text>
<line x1="764" y1="650" x2="740" y2="664" class="l" marker-end="url(#a)"/>
<rect class="b P3" x="667" y="646" width="71" height="40"/><text x="702" y="676" style="font-size:28px">E6-TP1</text>
<line x1="667" y1="666" x2="650" y2="666" class="l" marker-end="url(#a)"/>
<ellipse cx="221" cy="687" rx="46" ry="24" class="m"/><text x="221" y="697" style="font-size:28px">miR-142</text>
<line x1="262" y1="700" x2="280" y2="720" class="l"/>
<rect class="b GR" x="349" y="665" width="63" height="40"/><text x="380" y="695" style="font-size:28px">Gs</text>
<rect class="b GR" x="282" y="722" width="65" height="40"/><text x="314" y="752" style="font-size:28px">GPCR</text>
<line x1="347" y1="730" x2="370" y2="707" class="l" marker-end="url(#a)"/><line x1="347" y1="758" x2="372" y2="780" class="l" marker-end="url(#a)"/>
<line x1="412" y1="685" x2="436" y2="692" class="l" marker-end="url(#a)"/>
<rect class="b R" x="438" y="676" width="48" height="32"/><text x="462" y="702" style="font-size:26px">AC</text>
<line x1="486" y1="690" x2="506" y2="690" class="l" marker-end="url(#a)"/>
<ellipse cx="517" cy="690" rx="8" ry="12" class="c"/><text x="516" y="728" style="font-size:22px">cAMP</text>
<line x1="526" y1="690" x2="548" y2="690" class="l" marker-end="url(#a)"/>
<rect class="b GR" x="550" y="670" width="56" height="42"/><text x="578" y="701" style="font-size:28px">Epac</text>
<line x1="606" y1="690" x2="628" y2="690" class="l" marker-end="url(#a)"/>
<rect class="b G4" x="695" y="694" width="50" height="41"/><text x="720" y="724" style="font-size:28px">Spa1</text>
<line x1="695" y1="714" x2="676" y2="714" class="l" marker-end="url(#a)"/>
<ellipse cx="413" cy="748" rx="46" ry="24" class="m"/><text x="413" y="758" style="font-size:28px">miR-142</text>
<line x1="438" y1="708" x2="430" y2="722" class="l"/>
<rect class="b G3" x="349" y="781" width="63" height="39"/><text x="380" y="810" style="font-size:28px">Gq</text>
<line x1="412" y1="800" x2="437" y2="797" class="l" marker-end="url(#a)"/>
<rect class="b G1" x="440" y="778" width="47" height="37"/><text x="463" y="806" style="font-size:28px">PLC</text>
<line x1="487" y1="790" x2="510" y2="768" class="l" marker-end="url(#a)"/><line x1="487" y1="808" x2="510" y2="840" class="l" marker-end="url(#a)"/>
<ellipse cx="521" cy="765" rx="8" ry="12" class="c"/><text x="523" y="801" style="font-size:22px">DAG</text>
<line x1="530" y1="765" x2="549" y2="765" class="l" marker-end="url(#a)"/>
<rect class="b GR" x="551" y="746" width="91" height="40"/><text x="596" y="776" style="font-size:28px">CDGEFIII</text>
<line x1="642" y1="766" x2="672" y2="766" class="l" marker-end="url(#a)"/>
<rect class="b G4" x="714" y="746" width="71" height="43"/><text x="749" y="777" style="font-size:28px">Spa-L2</text>
<line x1="714" y1="768" x2="695" y2="768" class="l" marker-end="url(#a)"/>
<ellipse cx="521" cy="850" rx="8" ry="12" class="c"/><text x="538" y="836" style="font-size:20px">Ca</text>
<line x1="530" y1="850" x2="596" y2="850" class="l" marker-end="url(#a)"/>
<rect class="b P2" x="598" y="829" width="81" height="42"/><text x="638" y="860" style="font-size:28px">CDGEFI</text>
<line x1="679" y1="850" x2="702" y2="850" class="l" marker-end="url(#a)"/>
<rect class="b G4" x="737" y="805" width="73" height="41"/><text x="773" y="835" style="font-size:28px">Spa-L3</text>
<line x1="737" y1="826" x2="718" y2="826" class="l" marker-end="url(#a)"/>
<rect x="398" y="865" width="172" height="75" rx="15" ry="22" class="rb"/><text x="484" y="893" style="font-size:26px">Calcium signaling</text><text x="484" y="927" style="font-size:26px">pathway</text>
<ellipse cx="242" cy="877" rx="46" ry="24" class="m"/><text x="242" y="887" style="font-size:28px">miR-142</text>
<line x1="242" y1="901" x2="242" y2="935" class="l"/><line x1="234" y1="935" x2="250" y2="935" class="l"/>
<rect class="b GR" x="204" y="940" width="64" height="40"/><text x="236" y="970" style="font-size:28px">GF</text>
<line x1="268" y1="955" x2="291" y2="952" class="l" marker-end="url(#a)"/>
<rect class="b R" x="293" y="929" width="46" height="41"/><text x="316" y="959" style="font-size:28px">RTK</text>
<line x1="339" y1="938" x2="440" y2="815" class="l" marker-end="url(#a)"/>
<line x1="339" y1="950" x2="538" y2="960" class="l" marker-end="url(#a)"/>
<line x1="339" y1="948" x2="664" y2="948" class="l" marker-end="url(#a)"/>
<rect class="b G4" x="540" y="940" width="48" height="40"/><text x="564" y="970" style="font-size:28px">Crk</text>
<line x1="588" y1="948" x2="664" y2="946" class="l"/>
<rect class="b GR" x="666" y="930" width="52" height="40"/><text x="692" y="960" style="font-size:28px">C3G</text>
<line x1="718" y1="950" x2="740" y2="950" class="l" marker-end="url(#a)"/>
<text x="231" y="1017" style="font-size:26px">Strech</text>
<line x1="262" y1="1009" x2="370" y2="1009" class="l d" marker-end="url(#a)"/>
<rect class="b GR" x="373" y="990" width="90" height="39"/><text x="418" y="1019" style="font-size:28px">p130Cas</text>
<line x1="468" y1="992" x2="538" y2="965" class="l" marker-end="url(#a)"/>
<rect class="b G3" x="268" y="1073" width="89" height="40"/><text x="312" y="1103" style="font-size:28px">E-cad</text>
<line x1="360" y1="1088" x2="664" y2="955" class="l" marker-end="url(#a)"/>
<rect class="b GR" x="331" y="1115" width="87" height="40"/><text x="374" y="1145" style="font-size:28px">B-cat</text>
<line x1="422" y1="1113" x2="548" y2="1050" class="l" marker-end="url(#a)"/>
<rect class="b G1" x="552" y="1027" width="56" height="38"/><text x="580" y="1056" style="font-size:28px">MAGI</text>
<line x1="610" y1="1045" x2="650" y2="1030" class="l" marker-end="url(#a)"/>
<rect class="b P2" x="652" y="1007" width="86" height="40"/><text x="695" y="1037" style="font-size:28px">PDZGEF</text>
<line x1="738" y1="1027" x2="765" y2="1027" class="l" marker-end="url(#a)"/>
<rect class="b P1" x="597" y="1095" width="55" height="41"/><text x="624" y="1125" style="font-size:28px">Rap1</text>
<line x1="655" y1="1110" x2="705" y2="1050" class="l d" marker-end="url(#a)"/>
<rect class="b P1" x="494" y="1151" width="78" height="39"/><text x="533" y="1180" style="font-size:28px">ADAP</text>
<rect class="b GR" x="456" y="1192" width="77" height="41"/><text x="494" y="1222" style="font-size:28px">SLP-76</text>
<rect class="b GR" x="533" y="1192" width="76" height="41"/><text x="571" y="1222" style="font-size:28px">SKAP55</text>
<polyline points="609,1213 690,1213 785,1070" class="l" marker-end="url(#a)"/>
<rect class="b W" x="285" y="1227" width="56" height="41"/><text x="313" y="1257" style="font-size:28px">TCR</text>
<line x1="341" y1="1247" x2="366" y2="1247" class="l" marker-end="url(#a)"/>
<rect class="b GR" x="368" y="1227" width="58" height="41"/><text x="397" y="1257" style="font-size:28px">LAT</text>
<line x1="426" y1="1237" x2="454" y2="1213" class="l" marker-end="url(#a)"/><line x1="426" y1="1257" x2="454" y2="1278" class="l" marker-end="url(#a)"/>
<rect class="b P1" x="456" y="1259" width="52" height="39"/><text x="482" y="1288" style="font-size:28px">PLC</text>
<line x1="508" y1="1279" x2="532" y2="1280" class="l" marker-end="url(#a)"/>
<ellipse cx="542" cy="1281" rx="8" ry="12" class="c"/><text x="544" y="1262" style="font-size:24px">DAG</text>
<line x1="551" y1="1281" x2="583" y2="1281" class="l" marker-end="url(#a)"/>
<line x1="508" y1="1292" x2="538" y2="1328" class="l" marker-end="url(#a)"/>
<ellipse cx="545" cy="1337" rx="8" ry="12" class="c"/><text x="541" y="1372" style="font-size:20px">Ca</text>
<rect class="b GR" x="585" y="1261" width="53" height="38"/><text x="611" y="1290" style="font-size:28px">PKC</text>
<line x1="638" y1="1281" x2="661" y2="1283" class="l" marker-end="url(#a)"/>
<rect class="b GR" x="663" y="1264" width="52" height="40"/><text x="689" y="1294" style="font-size:28px">PKD</text>
<line x1="690" y1="1264" x2="800" y2="1095" class="l" marker-end="url(#a)"/>
<rect x="338" y="1310" width="172" height="73" rx="15" ry="22" class="rb"/><text x="424" y="1338" style="font-size:26px">T cell receptor</text><text x="424" y="1372" style="font-size:26px">signaling pathway</text>
<text x="832" y="1141" style="font-size:26px">GTP</text><ellipse cx="832" cy="1158" rx="8" ry="12" class="c"/>
<text x="773" y="1208" style="font-size:26px">(active)</text>
<rect class="b P1" x="808" y="1180" width="54" height="36"/><text x="835" y="1207" style="font-size:28px">Rap1</text>
<ellipse cx="786" cy="1272" rx="46" ry="24" class="m"/><text x="786" y="1282" style="font-size:28px">miR-142</text>
<line x1="808" y1="1295" x2="825" y2="1320" class="l"/><line x1="818" y1="1322" x2="832" y2="1316" class="l"/>
<rect class="b P2" x="830" y="1325" width="56" height="40"/><text x="858" y="1355" style="font-size:28px">Ras</text>
<ellipse cx="857" cy="1383" rx="8" ry="12" class="c"/><text x="857" y="1421" style="font-size:26px">GTP</text>
<g class="l">
<line x1="858" y1="1182" x2="936" y2="458" marker-end="url(#a)"/>
<line x1="860" y1="1182" x2="940" y2="565" marker-end="url(#a)"/>
<line x1="860" y1="1184" x2="940" y2="700" marker-end="url(#a)"/>
<line x1="860" y1="1186" x2="940" y2="780" marker-end="url(#a)"/>
<line x1="860" y1="1188" x2="940" y2="835" marker-end="url(#a)"/>
<line x1="860" y1="1190" x2="940" y2="915" marker-end="url(#a)"/>
<line x1="862" y1="1192" x2="940" y2="972" marker-end="url(#a)"/>
<line x1="862" y1="1194" x2="940" y2="1015" marker-end="url(#a)"/>
<line x1="862" y1="1195" x2="940" y2="1050" marker-end="url(#a)"/>
<line x1="862" y1="1196" x2="940" y2="1085" marker-end="url(#a)"/>
<line x1="862" y1="1197" x2="940" y2="1125" marker-end="url(#a)"/>
<line x1="862" y1="1198" x2="940" y2="1165" marker-end="url(#a)"/>
<line x1="862" y1="1200" x2="940" y2="1200" marker-end="url(#a)"/>
<line x1="862" y1="1204" x2="938" y2="1245" marker-end="url(#a)"/>
<line x1="862" y1="1208" x2="936" y2="1305" marker-end="url(#a)"/>
<line x1="855" y1="1216" x2="936" y2="1355" marker-end="url(#a)"/>
<line x1="938" y1="1365" x2="850" y2="1220" marker-end="url(#a)"/>
<line x1="880" y1="1325" x2="940" y2="1215" marker-end="url(#a)"/>
<line x1="886" y1="1350" x2="936" y2="1370" marker-end="url(#a)"/>
<line x1="750" y1="710" x2="938" y2="945" marker-end="url(#a)"/>
<line x1="913" y1="592" x2="1020" y2="648"/>
</g>
<rect class="b GR" x="941" y="408" width="56" height="42"/><text x="969" y="439" style="font-size:28px">ID1</text>
<line x1="997" y1="432" x2="1015" y2="432" class="l"/><line x1="1015" y1="420" x2="1015" y2="444" class="l"/>
<rect class="b P1" x="1019" y="413" width="56" height="42"/><text x="1047" y="444" style="font-size:28px">TSP1</text>
<line x1="1088" y1="433" x2="1218" y2="433" class="l d" marker-end="url(#a)"/>
<text x="1326" y="442" style="font-size:26px">Defective angiogenesis</text>
<rect x="1086" y="455" width="172" height="68" rx="15" ry="22" class="rb"/><text x="1172" y="481" style="font-size:26px">Regulation of</text><text x="1172" y="514" style="font-size:26px">actin cytoskeleton</text>
<rect class="b GR" x="918" y="510" width="75" height="43"/><text x="955" y="542" style="font-size:28px">RalGFS</text>
<line x1="993" y1="520" x2="1012" y2="515" class="l" marker-end="url(#a)"/><line x1="993" y1="540" x2="1012" y2="555" class="l" marker-end="url(#a)"/>
<rect class="b G3" x="1015" y="492" width="56" height="40"/><text x="1043" y="522" style="font-size:28px">Ral</text>
<rect class="b G1" x="1015" y="540" width="56" height="40"/><text x="1043" y="570" style="font-size:28px">Rac</text>
<line x1="1120" y1="543" x2="1245" y2="543" class="l d" marker-end="url(#a)"/>
<text x="1318" y="552" style="font-size:26px">Smg cross-talk</text>
<rect x="1082" y="553" width="148" height="37" rx="12" ry="16" class="rb"/><text x="1156" y="581" style="font-size:26px">Focal adhesion</text>
<ellipse cx="870" cy="578" rx="46" ry="24" class="m"/><text x="870" y="588" style="font-size:28px">miR-142</text>
<rect class="b GR" x="1020" y="595" width="48" height="40"/><text x="1044" y="625" style="font-size:28px">Talin</text>
<line x1="1068" y1="615" x2="1098" y2="615" class="l" marker-end="url(#a)"/>
<rect class="b P1" x="1100" y="600" width="73" height="40"/><text x="1136" y="630" style="font-size:28px">Integrin</text>
<rect class="b P2" x="933" y="657" width="57" height="40"/><text x="961" y="687" style="font-size:28px">RIAM</text>
<line x1="990" y1="665" x2="1018" y2="618" class="l" marker-end="url(#a)"/><line x1="990" y1="685" x2="1018" y2="685" class="l" marker-end="url(#a)"/>
<rect class="b G3" x="1020" y="645" width="57" height="30"/><text x="1048" y="669" style="font-size:22px">Profillin</text>
<rect class="b GR" x="1010" y="697" width="75" height="33"/><text x="1047" y="723" style="font-size:24px">EnaVASP</text>
<line x1="1040" y1="687" x2="1098" y2="687" class="l" marker-end="url(#a)"/>
<rect class="b GR" x="1100" y="656" width="67" height="41"/><text x="1133" y="686" style="font-size:28px">F-actin</text>
<rect class="b P2" x="935" y="738" width="55" height="38"/><text x="962" y="767" style="font-size:28px">Arap3</text>
<line x1="990" y1="757" x2="1018" y2="760" class="l" marker-end="url(#a)"/>
<rect class="b GR" x="1020" y="740" width="55" height="41"/><text x="1047" y="770" style="font-size:28px">Rho</text>
<line x1="1078" y1="760" x2="1110" y2="700" class="l" marker-end="url(#a)"/>
<rect class="b P2" x="935" y="793" width="50" height="38"/><text x="960" y="822" style="font-size:28px">Src</text>
<rect class="b GR" x="985" y="793" width="57" height="38"/><text x="1013" y="822" style="font-size:28px">FRG</text>
<line x1="1042" y1="812" x2="1063" y2="812" class="l" marker-end="url(#a)"/>
<rect class="b GR" x="1065" y="793" width="58" height="38"/><text x="1094" y="822" style="font-size:28px">Cdc42</text>
<line x1="1105" y1="790" x2="1128" y2="700" class="l" marker-end="url(#a)"/>
<line x1="1090" y1="838" x2="1133" y2="848" class="l" marker-end="url(#a)"/>
<rect class="b G1" x="1135" y="830" width="60" height="40"/><text x="1165" y="860" style="font-size:28px">PAR6</text>
<rect class="b GR" x="938" y="850" width="60" height="32"/><text x="968" y="876" style="font-size:28px">Vav2</text>
<rect class="b GR" x="938" y="882" width="60" height="31"/><text x="968" y="907" style="font-size:28px">Tiam</text>
<line x1="998" y1="880" x2="1016" y2="880" class="l" marker-end="url(#a)"/>
<rect class="b G1" x="1018" y="861" width="61" height="39"/><text x="1048" y="890" style="font-size:28px">Rac</text>
<line x1="1079" y1="880" x2="1103" y2="885" class="l" marker-end="url(#a)"/>
<rect class="b GR" x="1105" y="873" width="60" height="39"/><text x="1135" y="902" style="font-size:28px">PAR3</text>
<rect class="b GR" x="1165" y="873" width="62" height="39"/><text x="1196" y="902" style="font-size:28px">aPCK</text>
<polyline points="1240,605 1240,1128 1220,1128" class="l d"/>
<line x1="1240" y1="862" x2="1275" y2="862" class="l d" marker-end="url(#a)"/>
<text x="1342" y="840" style="font-size:26px">Cell adhesion,</text><text x="1322" y="874" style="font-size:26px">migration,</text><text x="1312" y="908" style="font-size:26px">polarity</text>
<rect class="b P1" x="940" y="940" width="60" height="30"/><text x="970" y="965" style="font-size:28px">AF6</text>
<line x1="1000" y1="955" x2="1018" y2="955" class="l" marker-end="url(#a)"/>
<rect class="b G4" x="1020" y="941" width="60" height="29"/><text x="1050" y="965" style="font-size:28px">p120</text>
<line x1="1080" y1="958" x2="1103" y2="970" class="l" marker-end="url(#a)"/>
<rect class="b G3" x="1105" y="960" width="60" height="30"/><text x="1135" y="985" style="font-size:28px">Cad</text>
<rect class="b P1" x="940" y="985" width="60" height="32"/><text x="968" y="1011" style="font-size:28px">Krit</text>
<line x1="1000" y1="1000" x2="1018" y2="1000" class="l" marker-end="url(#a)"/>
<rect class="b GR" x="1020" y="982" width="60" height="32"/><text x="1050" y="1008" style="font-size:28px">B-cat</text>
<line x1="1080" y1="995" x2="1103" y2="980" class="l" marker-end="url(#a)"/>
<rect x="1036" y="1020" width="168" height="33" rx="12" ry="16" class="rb"/><text x="1120" y="1045" style="font-size:26px">Adherens junction</text>
<rect class="b GR" x="940" y="1028" width="62" height="30"/><text x="971" y="1052" style="font-size:24px">RGS14</text>
<rect class="b P2" x="942" y="1066" width="60" height="30"/><text x="972" y="1090" style="font-size:26px">RapL</text>
<rect class="b GR" x="942" y="1108" width="60" height="30"/><text x="972" y="1132" style="font-size:26px">PKD1</text>
<line x1="1002" y1="1045" x2="1032" y2="1075" class="l" marker-end="url(#a)"/><line x1="1002" y1="1081" x2="1032" y2="1081" class="l" marker-end="url(#a)"/><line x1="1002" y1="1122" x2="1032" y2="1092" class="l" marker-end="url(#a)"/>
<rect class="b GR" x="1034" y="1066" width="67" height="30"/><text x="1067" y="1090" style="font-size:24px">Integrin</text>
<ellipse cx="1148" cy="1110" rx="46" ry="24" class="m"/><text x="1148" y="1120" style="font-size:28px">miR-142</text>
<line x1="1125" y1="1134" x2="1118" y2="1162" class="l"/><line x1="1110" y1="1162" x2="1126" y2="1162" class="l"/>
<text x="1133" y="1170" style="font-size:22px">+p</text>
<rect class="b GR" x="942" y="1148" width="60" height="30"/><text x="972" y="1172" style="font-size:26px">B-Raf</text>
<rect class="b GR" x="942" y="1188" width="60" height="30"/><text x="972" y="1212" style="font-size:26px">Raf-1</text>
<line x1="1002" y1="1163" x2="1045" y2="1180" class="l" marker-end="url(#a)"/><line x1="1002" y1="1200" x2="1045" y2="1192" class="l" marker-end="url(#a)"/>
<rect class="b GR" x="1047" y="1170" width="58" height="33"/><text x="1076" y="1196" style="font-size:26px">MEK</text>
<line x1="1105" y1="1187" x2="1141" y2="1187" class="l" marker-end="url(#a)"/>
<rect class="b GR" x="1143" y="1170" width="62" height="33"/><text x="1174" y="1196" style="font-size:26px">ERK</text>
<polyline points="1200,1158 1285,1158 1285,1393 1200,1393" class="l d"/>
<line x1="1285" y1="1278" x2="1312" y2="1278" class="l d" marker-end="url(#a)"/>
<text x="1376" y="1253" style="font-size:26px">Proliferation,</text><text x="1357" y="1287" style="font-size:26px">survival,</text><text x="1387" y="1322" style="font-size:26px">gene activation</text>
<rect class="b G4" x="942" y="1242" width="65" height="30"/><text x="974" y="1266" style="font-size:24px">MEK3,6</text>
<line x1="1007" y1="1257" x2="1020" y2="1257" class="l" marker-end="url(#a)"/>
<rect class="b P1" x="1022" y="1242" width="85" height="30"/><text x="1064" y="1266" style="font-size:24px">p38MAPK</text>
<rect x="1112" y="1210" width="166" height="80" rx="15" ry="22" class="rb"/><text x="1195" y="1240" style="font-size:26px">MAPK signaling</text><text x="1195" y="1274" style="font-size:26px">pathway</text>
<rect class="b P2" x="938" y="1300" width="55" height="37"/><text x="965" y="1328" style="font-size:28px">PI3K</text>
<line x1="993" y1="1318" x2="1020" y2="1318" class="l" marker-end="url(#a)"/>
<rect class="b GR" x="1022" y="1300" width="55" height="37"/><text x="1049" y="1328" style="font-size:28px">Akt</text>
<rect x="1093" y="1296" width="165" height="77" rx="15" ry="22" class="rb"/><text x="1175" y="1323" style="font-size:26px">PI3K-Akt signaling</text><text x="1175" y="1357" style="font-size:26px">pathway</text>
<rect class="b GR" x="938" y="1350" width="55" height="40"/><text x="965" y="1380" style="font-size:28px">PLCs</text>
<ellipse cx="1043" cy="1388" rx="46" ry="24" class="m"/><text x="1043" y="1398" style="font-size:28px">miR-142</text>
<line x1="1015" y1="1366" x2="1000" y2="1343" class="l"/><line x1="992" y1="1347" x2="1008" y2="1339" class="l"/>
<text x="142" y="1461" style="font-size:27px">Data on KEGG graph</text><text x="142" y="1495" style="font-size:27px">Rendered by Pathview</text>
</g>
</svg>
</body></html>
